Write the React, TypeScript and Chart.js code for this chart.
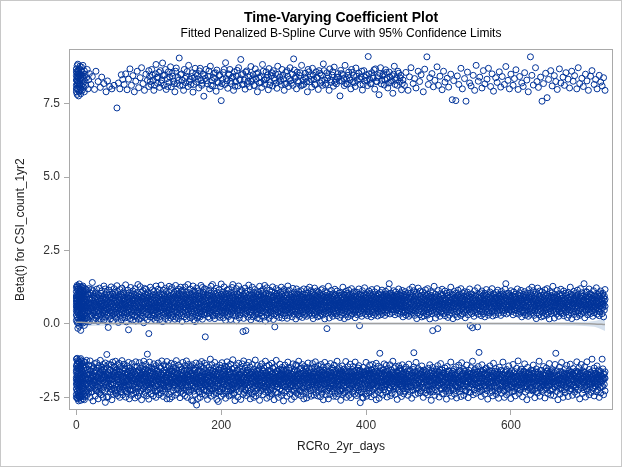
import { useEffect, useRef } from "react";
import { Chart, registerables } from "chart.js";

Chart.register(...registerables);

const TITLE = "Time-Varying Coefficient Plot";
const SUBTITLE = "Fitted Penalized B-Spline Curve with 95% Confidence Limits";
const X_LABEL = "RCRo_2yr_days";
const Y_LABEL = "Beta(t) for CSI_count_1yr2";

const xTickValues = [0, 200, 400, 600];
const yTickValues = [-2.5, 0, 2.5, 5, 7.5];

// Upper residual group: flat [day, beta x 100] pairs.
const upperPairs = [
  0, 812, 0, 845, 0, 868, 0, 790, 0, 830, 0, 800, 0, 858, 1, 855, 1, 802, 1, 879, 1, 826, 1, 781, 1, 840, 1, 818,
  2, 840, 2, 863, 2, 815, 2, 798, 2, 884, 2, 827, 2, 850, 3, 822, 3, 851, 3, 776, 3, 838, 3, 860, 4, 869, 4, 808,
  4, 845, 4, 790, 4, 815, 5, 828, 5, 877, 5, 816, 5, 852, 5, 795, 6, 799, 6, 836, 6, 862, 6, 783, 6, 848, 7, 847,
  7, 812, 7, 874, 8, 829, 8, 795, 8, 858, 9, 818, 9, 843, 9, 880, 10, 805, 10, 836, 11, 861, 11, 790, 12, 826,
  12, 849, 13, 812, 14, 838, 15, 866, 16, 800, 17, 831, 18, 852, 20, 815, 22, 842, 25, 798, 27, 860, 30, 825,
  33, 805, 35, 840, 38, 818, 41, 790, 43, 827, 46, 808, 49, 800, 52, 812, 56, 735, 58, 820, 60, 800, 62, 848,
  64, 832, 66, 815, 68, 851, 70, 797, 72, 833, 74, 868, 76, 812, 78, 845, 80, 790, 82, 826, 84, 860, 86, 804,
  88, 838, 90, 872, 92, 818, 94, 795, 96, 850, 98, 829, 100, 808, 100, 862, 101, 842, 102, 825, 103, 815, 104, 866,
  105, 847, 106, 828, 107, 795, 108, 812, 109, 851, 110, 883, 111, 838, 112, 819, 113, 840, 114, 856, 115, 805,
  116, 862, 117, 820, 118, 830, 119, 888, 120, 845, 121, 812, 122, 847, 123, 866, 124, 798, 125, 835, 126, 808,
  127, 858, 128, 822, 129, 840, 130, 875, 131, 807, 132, 853, 133, 843, 134, 826, 135, 817, 136, 790, 137, 860,
  138, 871, 139, 818, 140, 839, 141, 829, 142, 905, 143, 812, 144, 848, 145, 851, 146, 829, 147, 812, 148, 795,
  149, 866, 150, 836, 151, 821, 152, 843, 153, 859, 154, 808, 155, 880, 156, 824, 157, 832, 158, 815, 159, 842,
  160, 855, 161, 789, 162, 815, 163, 838, 164, 870, 165, 852, 166, 823, 167, 846, 168, 833, 169, 803, 170, 861,
  171, 870, 172, 828, 173, 812, 174, 819, 175, 850, 176, 775, 177, 845, 178, 836, 179, 866, 180, 828, 181, 817,
  182, 842, 183, 861, 184, 800, 185, 877, 186, 812, 187, 829, 188, 810, 189, 839, 190, 853, 191, 835, 192, 855,
  193, 792, 194, 864, 195, 824, 196, 820, 197, 845, 198, 847, 199, 808, 200, 760, 201, 818, 202, 833, 203, 856,
  204, 866, 205, 815, 206, 889, 207, 835, 208, 827, 209, 802, 210, 851, 211, 848, 212, 866, 213, 826, 214, 818,
  215, 837, 216, 842, 217, 795, 218, 858, 219, 809, 220, 824, 221, 843, 222, 863, 223, 810, 224, 872, 225, 832,
  226, 831, 227, 900, 228, 848, 229, 815, 230, 852, 231, 815, 232, 829, 233, 799, 234, 857, 235, 861, 236, 818,
  237, 826, 238, 840, 239, 807, 240, 845, 241, 876, 242, 825, 243, 834, 244, 848, 245, 812, 246, 811, 247, 868,
  248, 834, 249, 852, 250, 790, 251, 855, 252, 838, 253, 820, 254, 842, 255, 822, 256, 805, 257, 883, 258, 860,
  259, 830, 260, 816, 261, 831, 262, 858, 263, 838, 264, 847, 265, 797, 266, 869, 267, 813, 268, 822, 269, 845,
  270, 855, 271, 810, 272, 862, 273, 836, 274, 829, 275, 851, 276, 820, 277, 802, 278, 877, 279, 850, 280, 825,
  281, 840, 282, 829, 283, 815, 284, 866, 285, 846, 286, 833, 287, 795, 288, 816, 289, 856, 290, 819, 291, 862,
  292, 843, 293, 808, 294, 833, 295, 872, 296, 828, 297, 819, 298, 850, 299, 812, 300, 902, 301, 864, 302, 836,
  303, 842, 304, 800, 305, 857, 306, 828, 307, 822, 308, 846, 309, 855, 310, 810, 311, 880, 312, 813, 313, 829,
  314, 815, 315, 840, 316, 853, 317, 836, 318, 824, 319, 790, 320, 866, 321, 858, 322, 824, 323, 845, 324, 832,
  325, 806, 326, 870, 327, 847, 328, 832, 329, 815, 330, 815, 331, 858, 332, 839, 333, 838, 334, 798, 335, 862,
  336, 853, 337, 820, 338, 848, 339, 826, 340, 812, 341, 885, 342, 862, 343, 830, 344, 814, 345, 819, 346, 855,
  347, 837, 348, 844, 349, 795, 350, 868, 351, 831, 352, 822, 353, 847, 354, 858, 355, 809, 356, 874, 357, 822,
  358, 831, 359, 817, 360, 840, 361, 852, 362, 840, 363, 827, 364, 776, 365, 863, 366, 852, 367, 826, 368, 849,
  369, 835, 370, 811, 371, 880, 372, 818, 373, 833, 374, 816, 375, 846, 376, 857, 377, 838, 378, 830, 379, 800,
  380, 866, 381, 856, 382, 823, 383, 846, 384, 821, 385, 808, 386, 871, 387, 843, 388, 829, 390, 853, 391, 834,
  392, 815, 393, 840, 394, 860, 395, 796, 396, 815, 397, 862, 398, 827, 399, 839, 400, 848, 401, 828, 402, 811,
  403, 910, 404, 851, 405, 832, 406, 818, 407, 818, 408, 855, 409, 842, 410, 836, 411, 865, 412, 799, 413, 868,
  414, 826, 415, 824, 416, 838, 417, 845, 418, 780, 419, 852, 420, 872, 421, 817, 422, 829, 423, 844, 424, 851,
  425, 813, 426, 831, 427, 865, 428, 856, 429, 834, 430, 803, 431, 820, 432, 857, 433, 840, 434, 822, 435, 828,
  436, 845, 437, 785, 438, 850, 439, 877, 440, 815, 441, 830, 442, 838, 443, 812, 444, 860, 445, 853, 446, 825,
  447, 838, 448, 846, 449, 797, 450, 818, 451, 830, 453, 812, 455, 856, 458, 795, 460, 841, 462, 872, 465, 818,
  467, 835, 469, 803, 472, 860, 474, 825, 476, 848, 479, 790, 481, 867, 484, 909, 486, 815, 488, 838, 491, 852,
  493, 807, 495, 829, 498, 875, 500, 812, 502, 843, 505, 797, 507, 860, 509, 823, 512, 836, 514, 806, 517, 850,
  519, 763, 521, 828, 524, 760, 526, 844, 528, 815, 531, 870, 533, 800, 536, 835, 538, 758, 540, 857, 543, 820,
  545, 810, 548, 846, 550, 795, 552, 880, 555, 826, 557, 840, 560, 803, 562, 862, 564, 817, 567, 833, 569, 870,
  572, 808, 574, 851, 576, 792, 579, 838, 581, 822, 584, 858, 586, 806, 588, 842, 591, 815, 593, 876, 596, 829,
  598, 800, 600, 850, 603, 812, 605, 835, 607, 865, 610, 798, 612, 842, 615, 820, 617, 808, 619, 855, 622, 830,
  624, 790, 627, 909, 629, 846, 631, 813, 634, 872, 636, 825, 638, 805, 641, 840, 643, 758, 645, 818, 648, 853,
  650, 770, 652, 832, 655, 862, 657, 810, 660, 845, 662, 825, 664, 798, 667, 868, 669, 820, 672, 840, 674, 812,
  676, 855, 679, 833, 681, 803, 684, 860, 686, 826, 688, 845, 691, 800, 693, 872, 695, 818, 698, 836, 700, 808,
  703, 850, 705, 827, 707, 795, 710, 843, 712, 862, 715, 815, 717, 832, 719, 800, 722, 846, 724, 823, 726, 810,
  728, 838, 730, 795,
];

// Middle residual group: beta x 100, one list per day starting at day 0.
const middleByDay = [
  [12,45,88,110,67,30,95,125,58,78],[5,72,118,40,60,99,22,131,84,50],[-15,50,83,104,36,128,70,62,92],[18,92,58,115,2,77,44,121,66],[64,28,101,136,-8,85,49,73,110],[33,119,74,9,96,55,112,81],[81,14,127,47,103,62,-22,90],[26,90,58,117,38,6,108,69],[71,124,19,53,97,35,86,60],[42,3,113,66,129,24,80],
  [94,57,11,79,106,31,68],[61,100,-5,46,122,85],[16,84,52,111,37,72],[73,29,98,60,118],[8,90,43,116,64],[55,21,102,80],[60,15,98,44],[42,120,71],[71,8,55,86],[88,33,64],
  [67,104,29,52],[49,81,117],[141,26,62,90],[113,58,37],[37,95,70,12],[45,88,66],[83,30,61,105],[52,19,74],[92,40,66,118],[57,28,86],
  [73,45,100,9],[63,96,35],[54,79,122,41],[88,67,16],[104,50,77,31],[95,60,112],[44,70,24,58],[90,37,83],[129,13,62,47],[99,71,36],
  [55,85,119,23],[64,42,91],[8,76,49,107],[30,68,81],[56,97,-12,39],[73,115,52],[27,88,62,101],[44,80,17],[69,93,126,55],[38,84,71],
  [29,58,103,46],[86,11,60],[95,34,77,120],[25,52,89],[65,108,40,82],[98,19,57],[73,130,33,61],[87,47,110],[5,68,54,94],[80,36,63],
  [117,42,59,90],[28,75,101],[49,66,85,14],[122,38,70],[96,53,62,22],[84,109,45],[31,77,55,99],[68,20,88],[73,41,133,64],[104,7,50],
  [92,36,79,58],[115,83,26],[47,70,97,-20],[61,106,39],[75,52,87,18],[66,124,95],[44,71,30,60],[99,83,35],[112,78,13,54],[90,48,67],
  [25,101,43,81],[120,59,29],[72,96,54,10],[88,37,65],[107,78,46,23],[93,61,134],[70,39,16,84],[56,100,48],[63,127,32,80],[55,91,19],
  [74,44,108,58],[87,26,69],[113,51,82,38],[95,67,4],[121,85,45,57],[102,22,73],[90,61,35,118],[79,50,40],[97,72,14,88],[59,106,30],
  [66,-33,81,53],[94,42,69],[125,24,57,86],[103,48,77],[31,52,92,68],[116,37,83],[19,60,45,99],[71,28,110],[56,89,35,74],[98,12,63],
  [80,129,47,67],[21,93,55],[107,76,64,40],[87,52,118],[33,71,96,58],[15,82,45],[73,104,61,26],[90,49,132],[38,77,55,100],[8,68,84],
  [43,115,79,29],[62,102,51],[70,34,94,57],[121,86,18],[44,75,63,110],[39,66,92],[27,55,83,99],[47,74,12],[128,60,88,36],[52,93,64],
  [20,81,117,48],[30,69,97],[58,124,41,85],[25,62,53],[101,33,76,90],[108,59,72],[16,45,94,67],[87,131,58],[38,100,23,79],[64,111,41],
  [86,95,54,29],[70,119,18],[63,89,46,104],[57,77,36],[98,125,82,50],[113,27,61],[92,40,76,9],[49,85,115],[67,35,102,58],[24,81,72],
  [94,45,59,126],[39,71,88],[110,53,17,65],[84,99,30],[48,77,134,62],[97,75,42],[106,55,33,88],[68,21,119],[91,50,57,80],[44,103,70],
  [26,63,97,38],[129,60,85],[79,113,14,52],[93,70,41],[8,84,108,55],[31,99,66],[45,77,122,62],[20,87,49],[37,95,73,112],[58,68,27],
  [51,89,104,83],[40,24,67],[96,55,131,72],[34,59,102],[43,81,16,124],[90,62,108],[47,31,75,98],[57,120,84],[-44,39,66,93],[48,79,117],
  [58,35,88,70],[101,53,63],[24,80,97,45],[52,114,73],[36,95,61,19],[42,86,68],[128,55,83,105],[40,77,64],[30,134,59,99],[92,46,27],
  [71,112,64,85],[50,18,86],[57,103,37,74],[121,61,45],[93,68,82,33],[70,107,53],[26,90,97,62],[40,78,116],[49,84,66,22],[88,55,31],
  [73,101,60,136],[95,44,78],[38,56,109,67],[21,85,63],[98,47,74,126],[36,59,91],[82,12,52,104],[69,43,86],[28,115,57,93],[40,71,102],
  [64,25,80,118],[48,55,95],[33,76,61,88],[15,69,107],[83,50,72,40],[54,97,124],[134,30,66,88],[59,45,79],[101,62,110,37],[73,90,52],
  [27,84,96,65],[58,11,120],[81,43,68,103],[35,76,92],[57,129,99,48],[20,63,85],[72,107,46,31],[89,60,116],[64,82,39,95],[54,113,70],
  [-26,58,84,100],[42,67,19],[51,87,93,74],[33,62,122],[-23,80,47,105],[56,71,36],[90,64,111,44],[82,59,23],[97,76,132,53],[40,78,101],
  [30,66,89,114],[57,61,14],[85,47,98,70],[125,37,63],[92,81,54,24],[106,68,45],[83,58,29,117],[72,50,94],[66,35,103,88],[59,42,77],
  [109,52,20,74],[96,33,62],[100,85,48,56],[128,79,17],[45,69,91,63],[112,96,38],[27,81,57,71],[105,52,90],[118,44,66,84],[23,60,99],
  [39,75,131,92],[54,70,10],[87,48,102,65],[79,123,31],[58,85,46,56],[94,72,36],[67,101,83,19],[61,115,76],[50,89,40,62],[97,28,44],
  [74,110,58,81],[126,53,37],[91,69,15,95],[64,34,82],[106,58,47,-10],[77,99,73],[120,50,86,28],[63,95,104],[41,67,78,86],[53,114,39],
  [70,98,22,61],[89,45,77],[108,54,32,91],[68,125,43],[80,66,100,20],[57,84,112],[48,73,93,35],[61,117,88],[50,59,76,27],[99,64,45],
  [82,70,107,38],[56,19,93],[73,129,62,47],[83,101,29],[67,90,115,52],[74,40,58],[96,81,37,68],[103,55,79],[24,64,91,45],[121,70,48],
  [86,92,33,59],[66,108,85],[51,42,75,99],[60,17,95],[67,53,84,119],[71,39,88],[58,31,76,102],[64,46,110],[89,57,25,80],[97,69,44],
  [62,78,113,35],[55,90,84],[48,67,101,22],[92,63,40],[79,119,56,86],[73,30,61],[98,83,47,70],[105,36,58],[88,75,26,92],[64,117,51],
  [85,42,69,104],[33,90,57],[74,125,48,96],[62,39,81],[113,55,77,67],[87,29,60],[101,44,78,93],[52,18,108],[65,84,37,71],[99,58,122],
  [80,46,70,31],[94,61,86],[112,53,75,42],[67,97,24],[83,56,109,72],[38,64,91],[50,27,79,103],[59,88,45],[116,76,66,35],[95,54,82],
  [48,120,69,30],[87,57,100],[40,74,93,63],[17,78,110],[52,85,44,71],[97,35,62],[90,-16,80,106],[58,47,75],[128,66,39,92],[54,83,20],
  [72,101,61,43],[88,65,77],[33,96,59,114],[82,48,70],[91,56,84,26],[67,103,41],[79,95,60,37],[73,118,52],[86,64,99,45],[35,76,68],
  [89,57,112,28],[62,80,47],[71,94,54,83],[105,40,66],[97,58,22,75],[88,63,107],[50,30,81,70],[92,59,46],[125,79,64,38],[85,101,55],
  [72,18,98,60],[43,87,69],[51,111,76,32],[90,66,82],[104,57,41,80],[96,69,24],[53,91,115,62],[74,37,100],[58,45,84,71],[89,29,63],
  [120,52,78,95],[34,67,86],[60,106,73,47],[94,56,81],[39,110,68,83],[21,62,99],[50,77,92,44],[65,108,58],[87,73,31,96],[66,48,85],
  [119,53,79,40],[63,-6,91,71],[102,35,57,84],[69,97,46],[88,60,75,26],[113,54,80],[67,94,38,82],[58,99,70],[48,61,123,77],[90,56,33],
  [74,101,65,87],[43,52,79],[106,69,28,93],[59,41,76],[112,63,85,50],[98,67,35],[81,71,57,104],[89,24,66],[78,47,95,117],[60,84,39],
  [53,72,100,68],[30,80,92],[45,74,59,109],[83,37,63],[97,88,52,71],[56,120,94],[42,67,79,27],[51,86,103],[62,74,40,98],[85,70,55],
  [31,91,107,64],[76,58,44],[89,115,53,81],[68,36,100],[95,72,60,48],[87,65,99],[29,57,78,84],[111,43,73],[92,61,102,50],[37,83,69],
  [96,80,55,46],[90,118,64],[88,137,75,58],[34,86,104],[71,49,93,82],[62,105,57],[39,77,98,66],[91,48,53],[113,74,85,60],[42,70,96],
  [67,58,80,31],[63,109,89],[72,50,47,94],[101,61,83],[76,36,92,55],[68,84,119],[45,72,99,64],[58,87,33],[73,106,51,95],[62,40,78],
  [88,114,56,69],[24,82,47],[93,63,101,38],[77,55,86],[65,110,44,71],[59,92,30],[61,98,80],[83,47,70],[105,36,58],[88,75,26],
  [92,64,117],[51,85,42],[69,104,33],[90,57,74],[125,48,96],[62,39,81],[113,55,77],[67,87,29],[60,101,44],[78,93,52],
  [18,108,65],[84,37,71],[99,58,122],[80,46,70],[31,94,61],[86,112,53],[75,42,67],[97,24,83],[56,109,72],[38,64,91],
  [50,27,79],[103,59,88],[45,116,76],[66,35,95],[54,82,48],[120,69,30],[87,57,100],[40,74,93],[63,17,78],[110,52,85],
  [44,71,97],[35,62,90],[-23,80,106],[58,47,75],[128,66,39],[92,54,83],[20,72,101],[61,43,88],[65,77,33],[96,-16,59],
  [114,82,48],[70,91,56],[84,26,67],[103,41,79],[95,60,37],[73,118,52],[86,64,99],[45,35,76],[68,89,57],[112,28,62],
  [80,47,71],[94,54,83],[105,40,66],[97,58,22],[75,88,63],[107,50,30],[81,70,92],[59,46,125],[79,64,38],[85,101,55],
  [72,18,98],[60,43,87],[69,51,111],[76,32,90],[66,82,104],[57,41,80],[96,69,24],[53,91,115],[62,74,37],[100,58,45],
  [84,71,89],[29,63,120],[52,78,95],[34,67,86],[60,106,73],[47,94,56],[81,39,110],[68,83,21],[62,99,50],[77,92,44],
  [65,108,58],[87,73,31],[96,66,48],[85,119,53],[79,40,-6],[63,91,71],[102,35,57],[-13,84,69],[97,46,88],[60,75,26],
  [113,54,80],[67,94,38],[82,58,99],[70,48,61],[123,-10,77],[90,56,33],[74,101,65],[87,43,52],[79,106,69],[28,93,59],
  [41,76,112],[63,85,50],[98,67,35],[81,71,57],[104,89,24],[66,78,47],[95,117,60],[84,39,53],[72,100,68],[30,80,92],
  [45,74,59],[109,83,37],[63,97,88],[52,71,56],[120,94,42],[67,79,27],[51,86,103],[62,74,40],[98,85,70],[55,31,91],
  [107,64,76],[58,44,89],[115,53,81],[68,36,100],[95,72,60],[48,87,65],[99,29,57],[78,84,111],[43,73,92],[61,102,50],
  [37,83,69],[96,80,55],[46,90,118],[64,137,75],[58,34,86],[104,71,49],[93,82,62],[105,57,39],[77,98,66],[91,48,53],
  [113,74,85],[60,42,70],[96,67,58],[80,31,63],[109,89,72],[50,47,94],[101,61,83],[76,36,92],[55,68,84],[119,45,72],
  [99,64,58],[87,33,73],[106,51,95],[62,40,78],[88,114,56],[69,24,82],[47,93,63],[101,38,77],[55,86,65],[110,44,71],
  [59,92,30],[61,98,80],[83,47,70],[105,36,58],[88,75,26],[92,64,117],[51,85,42],[69,104,33],[90,57,74],[125,48,96],
  [62,39,81],[113,55,77],[67,87,29],[60,101,44],[78,93,52],[18,108,65],[84,37,71],[99,58,122],[80,46,70],[31,94,61],
  [86,112,53],[75,42,67],[97,24,83],[56,109,72],[38,64,91],[50,27,79],[103,59,88],[45,116,76],[66,35,95],[54,82,48],
  [120,69,30],[87,57,100],[40,74,93],[63,17,78],[110,52,85],[44,71,97],[35,62,90],[80,106,58],[47,75,128],[66,39,92],
  [54,83,20],[72,101,61],[43,88,65],[77,33,96],[59,114,82],[48,70,91],[56,84,26],[67,103,41],[79,95,60],[37,73,118],
  [52,86,64],[99,45,35],[76,68,89],[57,112,28],[62,80,47],[71,94,54],[83,105,40],[66,97,58],[22,75,88],[63,107,50],
  [30,81,70],[92,59,46],[125,79,64],[38,85,101],[55,72,18],[98,60,43],[87,69,51],[111,76,32],[90,66,82],[104,57,41],
  [80,96,69],[24,53,91],[115,62,74],[37,100,58],[45,84,71],[89,29,63],[120,52,78],[95,34,67],[86,60,106],[73,47,94],
  [56,81,39],[137,68,83],[21,62,99],[50,77,92],[44,65,110],[108,58,87],[73,31,96],[66,48,85],[119,53,79],[40,63,91],
  [71,102,35],[57,84,69],[97,46,88],[60,75,26],[113,54,80],[67,94,38],[82,58,99],[70,48,61],[123,77,90],[56,33,74],
  [101,65,87],[43,52,79],[106,69,28],[93,59,41],[76,112,63],[85,50,98],[67,35,81],[71,57,104],[89,24,66],[78,47,95],
  [117,60,84],
];

// Lower residual group: beta x 100, one list per day starting at day 0.
const lowerByDay = [
  [-120,-165,-205,-240,-182,-143,-221,-250,-190,-158],[-135,-198,-230,-172,-117,-212,-252,-186,-150],[-160,-125,-245,-203,-178,-138,-226,-192,-255],[-147,-218,-170,-235,-128,-195,-262,-183],[-208,-155,-242,-131,-186,-224,-166,-248],[-175,-122,-215,-250,-145,-198,-232],[-190,-140,-260,-168,-227,-118,-205],[-153,-238,-182,-127,-212,-248,-171],[-220,-162,-135,-199,-244,-180],[-143,-230,-187,-255,-166,-210],
  [-195,-128,-240,-172,-218,-150],[-177,-236,-139,-204,-258],[-160,-222,-185,-131,-247],[-208,-148,-190,-232],[-170,-245,-124,-200],[-188,-155,-226],[-165,-212,-188],[-140,-236,-188,-172],[-198,-155,-221],[-126,-175,-250,-193],
  [-218,-160,-184],[-185,-143,-207,-231],[-230,-172,-205],[-152,-262,-178,-196],[-194,-180,-148],[-135,-220,-168,-201],[-246,-190,-163],[-158,-207,-179,-226],[-176,-132,-228],[-199,-150,-184,-213],
  [-215,-183,-255],[-142,-170,-196,-230],[-236,-195,-167],[-163,-124,-210,-188],[-188,-241,-156],[-174,-147,-203,-219],[-225,-160,-186],[-138,-192,-250,-171],[-181,-215,-153],[-155,-199,-228,-177],
  [-267,-133,-178],[-207,-169,-191,-145],[-104,-250,-186],[-151,-220,-174,-202],[-196,-248,-165],[-175,-137,-212,-189],[-213,-184,-157],[-158,-232,-192,-176],[-140,-205,-223],[-258,-171,-222,-189],
  [-187,-130,-209],[-162,-240,-201,-179],[-219,-176,-146],[-148,-193,-227,-168],[-233,-165,-127],[-204,-182,-157,-238],[-155,-226,-190],[-189,-244,-139,-172],[-172,-210,-197],[-134,-197,-221,-163],
  [-250,-163,-218],[-183,-146,-205,-232],[-208,-231,-175],[-170,-125,-193,-214],[-241,-178,-159],[-152,-215,-186,-199],[-200,-137,-181],[-227,-168,-209,-150],[-185,-249,-155],[-212,-175,-194,-230],
  [-143,-196,-236],[-164,-221,-188,-172],[-190,-131,-207],[-255,-178,-206,-161],[-149,-184,-224],[-229,-160,-199,-177],[-172,-243,-193],[-135,-211,-168,-185],[-193,-158,-225],[-181,-238,-204,-162],
  [-146,-205,-187],[-217,-169,-252,-190],[-188,-129,-213],[-161,-232,-179,-197],[-200,-176,-145],[-246,-189,-166,-220],[-157,-214,-183],[-183,-132,-235,-201],[-204,-167,-189],[-228,-150,-176,-210],
  [-192,-258,-174],[-141,-209,-186,-163],[-221,-186,-155],[-163,-240,-127,-195],[-199,-178,-216],[-233,-154,-182,-170],[-185,-212,-138],[-170,-245,-193,-208],[-103,-196,-161],[-224,-182,-158,-201],
  [-147,-207,-256],[-176,-130,-190,-219],[-215,-193,-166],[-160,-238,-187,-204],[-201,-149,-177],[-227,-172,-195,-153],[-245,-165,-190],[-136,-218,-181,-199],[-181,-204,-153],[-230,-170,-192,-211],
  [-193,-142,-250],[-211,-177,-160,-228],[-158,-226,-185],[-187,-133,-208,-171],[-241,-164,-196],[-197,-180,-147,-222],[-219,-171,-188],[-150,-236,-202,-175],[-184,-205,-126],[-162,-228,-191,-208],
  [-200,-247,-175],[-139,-213,-167,-186],[-190,-157,-221],[-233,-181,-145,-198],[-166,-209,-183],[-255,-192,-128,-174],[-176,-220,-197],[-143,-197,-214,-168],[-212,-165,-240],[-255,-186,-203,-159],
  [-155,-230,-179],[-203,-171,-134,-192],[-189,-248,-161],[-160,-216,-183,-201],[-226,-195,-148],[-179,-137,-210,-187],[-207,-163,-185],[-242,-184,-151,-199],[-195,-125,-172],[-221,-174,-193,-158],
  [-168,-236,-197],[-140,-210,-182,-223],[-183,-157,-204],[-251,-202,-172,-189],[-190,-146,-218],[-229,-165,-213,-177],[-154,-188,-205],[-200,-131,-237,-176],[-176,-218,-192],[-161,-195,-224,-183],
  [-244,-183,-142],[-209,-169,-186,-152],[-126,-226,-198],[-192,-157,-250,-173],[-173,-215,-189],[-138,-199,-181,-227],[-232,-160,-193],[-188,-206,-171,-149],[-145,-224,-176],[-259,-193,-210,-167],
  [-166,-139,-201],[-211,-186,-262,-178],[-152,-229,-194],[-197,-173,-218,-156],[-240,-158,-214],[-181,-133,-203,-188],[-276,-203,-168],[-147,-222,-185,-196],[-190,-254,-162],[-212,-178,-157,-231],
  [-136,-199,-231],[-250,-185,-160,-206],[-219,-143,-177],[-176,-208,-128,-193],[-194,-238,-165],[-163,-215,-180,-201],[-225,-151,-187],[-187,-202,-134,-171],[-170,-243,-209],[-208,-159,-192,-226],
  [-141,-229,-192],[-181,-257,-166,-204],[-214,-166,-185],[-197,-148,-235,-174],[-175,-221,-199],[-120,-189,-158,-212],[-246,-204,-178],[-167,-183,-139,-220],[-226,-195,-161],[-152,-211,-188,-173],
  [-187,-240,-173],[-131,-218,-196,-165],[-200,-162,-229],[-234,-178,-146,-193],[-191,-257,-170],[-169,-213,-184,-205],[-264,-155,-201],[-176,-229,-190,-157],[-140,-193,-220],[-208,-165,-184,-231],
  [-183,-246,-150],[-216,-132,-173,-197],[-172,-198,-219],[-239,-160,-188,-206],[-205,-178,-154],[-144,-227,-162,-189],[-196,-253,-174],[-171,-210,-186,-149],[-129,-184,-232],[-221,-156,-198,-180],
  [-189,-202,-143],[-245,-175,-211,-164],[-163,-215,-192],[-198,-137,-228,-170],[-180,-241,-205],[-154,-207,-186,-223],[-122,-218,-179],[-193,-166,-203,-239],[-235,-177,-150],[-204,-261,-182,-168],
  [-168,-190,-214],[-142,-224,-199,-176],[-212,-181,-158],[-249,-157,-196,-185],[-185,-210,-134],[-171,-230,-194,-206],[-195,-148,-172],[-220,-187,-257,-201],[-164,-203,-183],[-136,-179,-217,-192],
  [-240,-197,-160],[-213,-126,-186,-170],[-182,-234,-199],[-151,-207,-174,-222],[-226,-192,-165],[-168,-244,-140,-189],[-201,-183,-157],[-158,-219,-178,-196],[-236,-175,-131],[-189,-210,-167,-230],
  [-147,-255,-196],[-171,-225,-184,-203],[-204,-163,-188],[-138,-186,-238,-172],[-216,-178,-199],[-250,-154,-199,-181],[-180,-211,-163],[-123,-167,-229,-194],[-193,-245,-176],[-160,-205,-187,-218],
  [-222,-185,-142],[-197,-170,-208,-158],[-236,-153,-183],[-176,-213,-260,-195],[-145,-190,-209],[-208,-168,-227,-180],[-184,-136,-201],[-219,-200,-172,-157],[-161,-241,-175],[-193,-150,-215,-184],
  [-230,-178,-212],[-127,-202,-188,-166],[-189,-166,-223],[-253,-216,-144,-179],[-173,-196,-208],[-158,-231,-185,-202],[-207,-140,-176],[-176,-247,-195,-161],[-194,-224,-162],[-215,-181,-170,-236],
  [-134,-201,-239],[-169,-188,-210,-150],[-226,-152,-187],[-197,-175,-258,-183],[-146,-211,-192],[-182,-233,-165,-204],[-124,-204,-183],[-191,-172,-215,-160],[-236,-160,-215],[-178,-250,-193,-205],
  [-155,-198,-181],[-221,-186,-137,-172],[-206,-169,-192],[-243,-192,-176,-158],[-163,-228,-148],[-184,-211,-197,-173],[-199,-157,-262],[-172,-234,-188,-206],[-140,-188,-214],[-214,-180,-227,-163],
  [-196,-154,-178],[-246,-209,-185,-169],[-167,-130,-193],[-222,-185,-201,-150],[-158,-201,-176],[-238,-176,-214,-190],[-183,-149,-208],[-205,-257,-172,-186],[-171,-226,-193],[-136,-212,-184,-199],
  [-190,-164,-223],[-229,-180,-248,-161],[-156,-203,-187],[-218,-173,-195,-139],[-141,-196,-235],[-187,-161,-210,-178],[-210,-240,-170],[-175,-127,-199,-188],[-224,-183,-206],[-152,-206,-171,-229],
  [-195,-244,-168],[-179,-215,-193,-150],[-138,-231,-185],[-201,-160,-189,-218],[-255,-177,-196],[-166,-220,-145,-183],[-192,-209,-172],[-230,-170,-187,-155],[-148,-185,-252],[-214,-162,-199,-178],
  [-181,-199,-133],[-240,-207,-166,-189],[-173,-155,-218],[-227,-191,-164,-182],[-203,-246,-176],[-151,-178,-216,-197],[-186,-135,-209],[-223,-197,-171,-184],[-160,-242,-172],[-208,-181,-193,-147],
  [-129,-219,-195],[-166,-233,-180,-205],[-199,-153,-186],[-245,-176,-211,-163],[-184,-142,-202],[-226,-167,-204,-190],[-157,-190,-175],[-213,-248,-170,-196],[-179,-138,-221],[-236,-200,-165,-182],
  [-163,-187,-224],[-147,-258,-192,-176],[-206,-174,-158],[-191,-222,-131,-203],[-168,-215,-187],[-242,-183,-156,-199],[-200,-229,-171],[-172,-144,-211,-190],[-255,-188,-165],[-161,-197,-218,-180],
  [-219,-176,-240],[-135,-204,-183,-169],[-185,-166,-212],[-230,-150,-193,-177],[-209,-178,-157],[-165,-246,-221,-195],[-189,-140,-206],[-215,-173,-236,-184],[-156,-201,-180],[-247,-182,-163,-211],
  [-127,-194,-168],[-223,-207,-188,-153],[-176,-238,-195],[-149,-186,-213,-171],[-198,-160,-226],[-260,-171,-229,-190],[-184,-206,-163],[-143,-222,-191,-174],[-168,-240,-201],[-211,-177,-156,-193],
  [-196,-153,-235],[-230,-164,-185,-208],[-179,-128,-197],[-217,-186,-250,-169],[-160,-202,-183],[-193,-146,-226,-178],[-175,-243,-194],[-208,-162,-181,-220],[-137,-190,-221],[-251,-181,-165,-203],
  [-169,-213,-189],[-199,-231,-155,-176],[-184,-145,-207],[-227,-172,-193,-160],[-206,-239,-162],[-188,-130,-215,-179],[-218,-175,-196],[-157,-200,-244,-183],[-192,-166,-210],[-236,-212,-177,-150],
  [-142,-181,-225],[-203,-170,-189,-158],[-268,-158,-194],[-216,-185,-171,-233],[-176,-232,-204],[-250,-163,-209,-187],[-252,-148,-191],[-188,-221,-174,-165],[-163,-205,-183],[-239,-190,-212,-172],
  [-131,-170,-214],[-197,-246,-180,-160],[-178,-155,-201],[-222,-186,-208,-167],[-159,-235,-193],[-193,-167,-140,-218],[-211,-184,-170],[-248,-172,-196,-157],[-156,-199,-229],[-180,-138,-207,-188],
  [-223,-205,-166],[-165,-241,-190,-179],[-201,-152,-220],[-176,-217,-194,-161],[-134,-195,-258],[-186,-163,-210,-176],[-230,-206,-183],[-170,-144,-213,-196],[-193,-253,-168],[-100,-160,-225,-185],
  [-237,-178,-201],[-149,-189,-212,-171],[-216,-167,-195],[-199,-242,-181,-158],[-182,-157,-208],[-224,-171,-136,-193],[-195,-215,-176],[-164,-232,-188,-207],[-141,-186,-204],[-249,-175,-193,-162],
  [-207,-160,-183],[-183,-228,-152,-199],[-170,-198,-217],[-219,-139,-185,-173],[-192,-244,-177],[-158,-210,-196,-181],[-236,-181,-203],[-203,-165,-127,-188],[-187,-222,-170],[-150,-196,-214,-176],
  [-240,-173,-211],[-178,-145,-198,-186],[-216,-190,-163],[-162,-257,-201,-179],[-185,-168,-222],[-226,-143,-207,-191],[-197,-174,-158],[-151,-233,-189,-205],[-212,-186,-160],[-181,-247,-196,-171],
  [-139,-204,-183],[-221,-169,-193,-210],[-176,-238,-164],[-155,-210,-187,-199],[-200,-183,-229],[-166,-147,-192,-215],[-188,-221,-170],[-160,-197,-214],[-205,-243,-179],[-172,-137,-193],
  [-230,-186,-162],[-194,-158,-211],[-215,-180,-200],[-253,-175,-190],[-168,-199,-224],[-185,-226,-155],[-98,-147,-196],[-210,-178,-163],[-175,-240,-202],[-191,-131,-218],
  [-162,-207,-184],[-219,-183,-169],[-236,-152,-195],[-200,-176,-222],[-171,-213,-189],[-189,-158,-234],[-228,-166,-198],[-143,-205,-181],[-186,-216,-164],[-250,-174,-203],
  [-198,-157,-185],[-217,-192,-170],[-180,-235,-159],[-163,-209,-190],[-192,-225,-176],[-241,-170,-206],[-151,-213,-187],[-226,-180,-197],[-185,-139,-211],[-203,-168,-232],
  [-260,-179,-194],[-177,-222,-160],[-195,-148,-208],[-231,-184,-171],[-161,-206,-190],[-184,-243,-166],[-170,-201,-224],[-215,-154,-186],[-197,-230,-173],[-142,-189,-209],
  [-188,-211,-165],[-164,-249,-193],[-202,-178,-156],[-176,-135,-219],[-223,-190,-180],[-157,-196,-237],[-208,-181,-167],[-238,-167,-199],[-194,-215,-174],[-150,-216,-189],
  [-179,-229,-203],[-256,-185,-162],[-172,-145,-207],[-199,-220,-183],[-187,-159,-226],[-161,-234,-196],[-212,-175,-190],[-130,-201,-181],[-193,-246,-168],[-168,-203,-218],
  [-224,-186,-161],[-183,-155,-200],[-239,-196,-174],[-173,-211,-188],[-210,-146,-227],[-187,-252,-169],[-165,-192,-214],[-219,-178,-199],[-140,-201,-185],[-230,-190,-163],
  [-160,-207,-221],[-207,-247,-180],[-176,-132,-194],[-221,-188,-170],[-193,-168,-210],[-243,-155,-186],[-185,-212,-160],[-162,-198,-229],[-228,-197,-175],[-174,-140,-206],
  [-205,-181,-166],[-251,-181,-196],[-158,-218,-189],[-190,-171,-232],[-233,-170,-199],[-149,-204,-182],[-216,-176,-193],[-183,-127,-208],[-198,-241,-170],[-166,-225,-187],
  [-175,-203,-156],[-207,-152,-190],[-236,-189,-171],[-163,-212,-184],[-200,-220,-164],[-178,-145,-202],[-97,-212,-185],[-231,-170,-195],[-188,-160,-215],[-247,-171,-200],
  [-139,-184,-226],[-202,-185,-163],[-224,-157,-196],[-194,-172,-211],[-167,-239,-188],[-210,-180,-153],[-150,-197,-219],[-227,-192,-173],[-173,-256,-191],[-205,-164,-182],
  [-186,-212,-158],[-219,-143,-198],[-234,-175,-206],[-198,-169,-181],[-160,-213,-229],[-245,-182,-194],[-168,-134,-200],[-209,-185,-176],[-190,-228,-161],[-152,-200,-217],
  [-240,-188,-171],[-177,-216,-195],[-195,-163,-230],[-253,-184,-170],[-185,-147,-207],[-222,-171,-189],[-206,-180,-159],[-158,-236,-193],[-183,-211,-172],[-130,-196,-215],
  [-199,-174,-226],[-228,-250,-185],[-165,-205,-189],[-212,-187,-160],[-241,-155,-201],[-176,-219,-194],[-196,-220,-171],[-143,-181,-208],[-233,-190,-165],[-169,-207,-186],
  [-254,-189,-173],[-160,-213,-198],[-215,-176,-231],[-138,-199,-182],[-229,-167,-204],[-184,-162,-219],[-245,-205,-180],[-172,-195,-214],[-193,-151,-178],[-221,-180,-200],
  [-126,-209,-187],[-237,-170,-196],[-166,-198,-224],[-183,-226,-160],[-154,-201,-188],[-214,-190,-171],[-175,-248,-197],[-204,-165,-183],[-161,-219,-192],[-186,-136,-210],
  [-232,-179,-166],[-195,-170,-214],[-258,-211,-185],[-148,-190,-203],[-180,-226,-168],[-203,-163,-187],[-190,-217,-174],[-240,-174,-197],[-157,-215,-181],[-199,-168,-224],
  [-228,-185,-160],[-140,-206,-191],[-167,-201,-179],[-223,-251,-188],[-182,-196,-163],[-153,-209,-230],[-210,-177,-194],[-235,-164,-186],[-188,-212,-170],[-127,-200,-181],
  [-219,-246,-193],[-172,-205,-158],[-194,-158,-215],[-230,-181,-199],[-209,-171,-186],[-145,-225,-197],[-187,-166,-211],[-252,-190,-175],[-201,-176,-223],[-150,-218,-184],
  [-190,-160,-207],[-237,-160,-195],[-212,-183,-170],[-135,-198,-186],[-198,-227,-163],[-171,-242,-193],[-206,-181,-160],[-156,-189,-221],[-223,-178,-197],[-244,-184,-168],
  [-165,-197,-213],[-214,-138,-186],[-100,-182,-202],[-230,-175,-192],[-192,-160,-211],[-258,-209,-179],[-174,-201,-188],[-220,-147,-192],[-185,-239,-170],[-203,-162,-218],
  [-131,-190,-207],[-195,-226,-166],[-178,-250,-189],[-210,-172,-197],[-167,-190,-224],[-234,-153,-182],[-199,-183,-215],[-141,-206,-175],[-216,-171,-192],[-247,-193,-168],
  [-160,-201,-184],[-205,-228,-176],[-176,-137,-209],[-191,-222,-163],[-221,-164,-187],[-243,-186,-171],[-152,-194,-210],[-209,-175,-190],[-232,-197,-166],[-168,-185,-219],
  [-187,-214,-160],[-129,-240,-195],[-201,-177,-164],[-163,-225,-188],[-180,-149,-206],[-255,-192,-175],[-193,-170,-212],[-217,-138,-186],[-184,-205,-168],[-236,-159,-198],
  [-202,-176,-189],[-224,-181,-163],[-146,-195,-214],[-165,-249,-190],[-210,-181,-172],[-129,-197,-220],[-188,-227,-169],[-172,-204,-185],[-241,-155,-196],[-198,-214,-176],
  [-164,-189,-208],[-183,-233,-170],[-120,-205,-187],[-177,-218,-160],[-220,-190,-174],[-150,-245,-201],[-196,-170,-211],[-168,-212,-186],[-231,-181,-199],[-143,-192,-171],
  [-204,-225,-180],[-175,-157,-208],[-250,-188,-166],[-189,-216,-174],[-162,-235,-193],[-199,-178,-213],[-120,-178,-194],[-213,-153,-187],[-190,-241,-172],[-170,-206,-185],
  [-185,-228,-163],
];

// Fitted spline and its 95% confidence limits.
const fitDays = [0, 15, 40, 100, 200, 300, 400, 500, 600, 680, 715, 730];
const fitBeta = [0.06, 0.04, 0.02, 0.01, 0.01, 0.01, 0.01, 0.01, 0.01, 0.01, 0.0, -0.02];
const fitLower = [-0.12, -0.08, -0.05, -0.03, -0.02, -0.02, -0.02, -0.02, -0.03, -0.05, -0.1, -0.24];
const fitUpper = [0.36, 0.24, 0.1, 0.05, 0.04, 0.04, 0.04, 0.04, 0.04, 0.06, 0.1, 0.2];

const FONT = "Arial, 'Liberation Sans', Helvetica, sans-serif";
const MARKER = "#003399";
const FRAME = "#a9a9a9";

type Pt = { x: number; y: number };

function pairsToPoints(flat: number[]): Pt[] {
  const pts: Pt[] = [];
  for (let i = 0; i + 1 < flat.length; i += 2) pts.push({ x: flat[i], y: flat[i + 1] / 100 });
  return pts;
}

function byDayToPoints(rows: number[][]): Pt[] {
  return rows.flatMap((vals, day) => vals.map((v) => ({ x: day, y: v / 100 })));
}

function curve(days: number[], vals: number[]): Pt[] {
  return days.map((d, i) => ({ x: d, y: vals[i] }));
}

const plotFrame = {
  id: "plotFrame",
  beforeDatasetsDraw(chart: Chart) {
    const { ctx, chartArea } = chart;
    ctx.save();
    ctx.strokeStyle = FRAME;
    ctx.lineWidth = 1;
    const l = Math.round(chartArea.left) + 0.5;
    const t = Math.round(chartArea.top) + 0.5;
    const r = Math.round(chartArea.right) - 0.5;
    const b = Math.round(chartArea.bottom) - 0.5;
    ctx.strokeRect(l, t, r - l, b - t);
    ctx.restore();
  },
};

const scatterStyle = {
  type: "scatter" as const,
  order: 1,
  pointStyle: "circle",
  pointRadius: 3,
  pointBorderWidth: 1,
  pointBorderColor: MARKER,
  pointBackgroundColor: "rgba(0,0,0,0)",
  borderColor: MARKER,
  backgroundColor: "rgba(0,0,0,0)",
  showLine: false,
};

export default function App() {
  const canvasRef = useRef<HTMLCanvasElement | null>(null);

  useEffect(() => {
    document.body.style.margin = "0";
    const canvas = canvasRef.current;
    if (!canvas) return;

    const chart = new Chart(canvas, {
      type: "scatter",
      data: {
        datasets: [
          {
            type: "line",
            label: "Lower limit",
            order: 2,
            data: curve(fitDays, fitLower),
            borderWidth: 0,
            borderColor: "rgba(0,0,0,0)",
            pointRadius: 0,
            fill: false,
            cubicInterpolationMode: "monotone",
          },
          {
            type: "line",
            label: "Upper limit",
            order: 2,
            data: curve(fitDays, fitUpper),
            borderWidth: 0,
            borderColor: "rgba(0,0,0,0)",
            pointRadius: 0,
            fill: "-1",
            backgroundColor: "#d6e1ee",
            cubicInterpolationMode: "monotone",
          },
          { ...scatterStyle, label: "Upper group", data: pairsToPoints(upperPairs) },
          { ...scatterStyle, label: "Middle group", data: byDayToPoints(middleByDay) },
          { ...scatterStyle, label: "Lower group", data: byDayToPoints(lowerByDay) },
          {
            type: "line",
            label: "Beta(t)",
            order: 0,
            data: curve(fitDays, fitBeta),
            borderColor: "#a0a0a0",
            borderWidth: 1.5,
            pointRadius: 0,
            fill: false,
            cubicInterpolationMode: "monotone",
          },
        ],
      } as any,
      options: {
        responsive: false,
        animation: false,
        events: [],
        layout: { padding: { left: 0, right: 11, top: 0, bottom: 0 } },
        plugins: {
          legend: { display: false },
          tooltip: { enabled: false },
          title: {
            display: true,
            text: TITLE,
            fullSize: false,
            color: "#000",
            font: { family: FONT, size: 14, weight: "bold" },
            padding: { top: 10, bottom: 0 },
          },
          subtitle: {
            display: true,
            text: SUBTITLE,
            fullSize: false,
            color: "#000",
            font: { family: FONT, size: 12 },
            padding: { top: 0, bottom: 8 },
          },
        },
        scales: {
          x: {
            type: "linear",
            position: "bottom",
            min: -10.2,
            max: 741,
            afterFit: (scale: any) => {
              scale.height = 58;
            },
            afterBuildTicks: (scale: any) => {
              scale.ticks = xTickValues.map((v) => ({ value: v }));
            },
            grid: { display: true, drawOnChartArea: false, drawTicks: true, tickLength: 5, color: FRAME },
            border: { display: false },
            ticks: {
              color: "#333",
              font: { family: FONT, size: 12 },
              padding: 3,
              maxRotation: 0,
              autoSkip: false,
              callback: (v: any) => String(v),
            },
            title: {
              display: true,
              text: X_LABEL,
              color: "#222",
              font: { family: FONT, size: 12 },
              padding: { top: 0, bottom: 14 },
            },
          },
          y: {
            type: "linear",
            position: "left",
            min: -2.93,
            max: 9.35,
            afterFit: (scale: any) => {
              scale.width = 69;
            },
            afterBuildTicks: (scale: any) => {
              scale.ticks = yTickValues.map((v) => ({ value: v }));
            },
            grid: { display: true, drawOnChartArea: false, drawTicks: true, tickLength: 5, color: FRAME },
            border: { display: false },
            ticks: {
              color: "#333",
              font: { family: FONT, size: 12 },
              padding: 4,
              autoSkip: false,
              callback: (v: any) => Number(v).toFixed(1),
            },
            title: {
              display: true,
              text: Y_LABEL,
              color: "#222",
              font: { family: FONT, size: 12 },
              padding: { top: 13, bottom: 0 },
            },
          },
        },
      } as any,
      plugins: [plotFrame],
    });

    return () => chart.destroy();
  }, []);

  return (
    <div style={{ position: "relative", width: 624, height: 468, background: "#fff" }}>
      <canvas ref={canvasRef} width={624} height={468} style={{ display: "block" }} />
      <div
        style={{
          position: "absolute",
          left: 0,
          top: 0,
          width: 622,
          height: 467,
          border: "1px solid #c8c8c8",
          boxSizing: "border-box",
          pointerEvents: "none",
        }}
      />
    </div>
  );
}
